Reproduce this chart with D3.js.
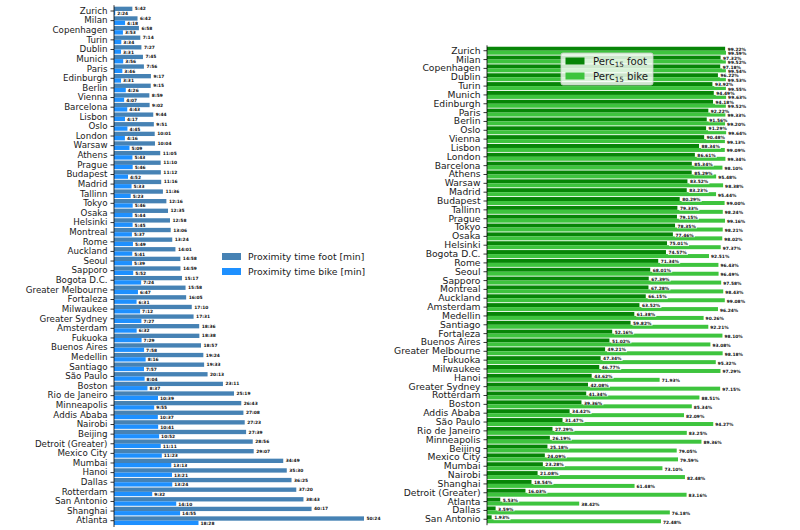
<!DOCTYPE html>
<html><head><meta charset="utf-8">
<script src="https://cdn.jsdelivr.net/npm/d3@7"></script>
<style>body{margin:0;background:#fff}svg{display:block}</style>
</head><body>
<svg id="c" width="800" height="530"></svg>
<script>
// ---- Left panel data (proximity times, m:ss) ----
const leftCities = ["Zurich","Milan","Copenhagen","Turin","Dublin","Munich","Paris","Edinburgh","Berlin","Vienna","Barcelona","Lisbon","Oslo","London","Warsaw","Athens","Prague","Budapest","Madrid","Tallinn","Tokyo","Osaka","Helsinki","Montreal","Rome","Auckland","Seoul","Sapporo","Bogota D.C.","Greater Melbourne","Fortaleza","Milwaukee","Greater Sydney","Amsterdam","Fukuoka","Buenos Aires","Medellin","Santiago","São Paulo","Boston","Rio de Janeiro","Minneapolis","Addis Ababa","Nairobi","Beijing","Detroit (Greater)","Mexico City","Mumbai","Hanoi","Dallas","Rotterdam","San Antonio","Shanghai","Atlanta"];
const footTime = ["5:42","6:42","6:58","7:14","7:27","7:45","7:56","9:17","9:15","8:59","9:02","9:44","9:51","10:01","10:04","11:05","11:10","11:12","11:16","11:36","12:16","12:35","12:58","13:06","13:24","14:01","14:58","14:59","15:17","15:58","16:05","17:10","17:31","18:36","18:38","18:57","19:24","19:33","20:13","23:11","25:19","26:43","27:08","27:23","27:39","28:56","29:07","34:49","35:30","36:25","37:20","38:43","40:17","50:24"];
const bikeTime = ["2:24","4:18","3:53","3:34","3:31","3:56","3:46","3:31","4:26","4:07","4:43","4:17","4:45","4:16","5:09","5:43","5:46","4:52","5:33","5:23","5:46","5:44","5:45","5:37","5:49","5:41","5:39","5:52","7:24","6:47","6:31","7:12","7:27","6:32","7:29","7:58","8:16","7:57","8:04","8:37","10:39","9:55","10:37","10:41","10:52","11:11","11:23","13:13","13:21","13:24","9:32","14:10","14:55","18:28"];
const leftLegend = ["Proximity time foot [min]","Proximity time bike [min]"];

// ---- Right panel data (share of population within 15 min, %) ----
const rightCities = ["Zurich","Milan","Copenhagen","Dublin","Turin","Munich","Edinburgh","Paris","Berlin","Oslo","Vienna","Lisbon","London","Barcelona","Athens","Warsaw","Madrid","Budapest","Tallinn","Prague","Tokyo","Osaka","Helsinki","Bogota D.C.","Rome","Seoul","Sapporo","Montreal","Auckland","Amsterdam","Medellin","Santiago","Fortaleza","Buenos Aires","Greater Melbourne","Fukuoka","Milwaukee","Hanoi","Greater Sydney","Rotterdam","Boston","Addis Ababa","São Paulo","Rio de Janeiro","Minneapolis","Beijing","Mexico City","Mumbai","Nairobi","Shanghai","Detroit (Greater)","Atlanta","Dallas","San Antonio"];
const footPerc = [99.22,97.32,97.18,96.22,93.92,94.49,94.18,92.22,91.56,91.29,90.48,88.34,86.61,85.34,85.29,83.52,83.23,80.29,79.33,79.15,78.35,77.46,75.01,74.57,71.34,68.01,67.39,67.28,66.15,63.52,61.38,59.82,52.16,51.02,49.21,47.34,46.77,43.62,42.08,41.34,39.36,34.42,31.47,27.29,26.19,25.18,24.09,23.28,21.08,18.54,16.03,5.53,3.59,1.93];
const bikePerc = [99.59,99.52,99.54,99.53,99.55,99.63,99.52,99.33,99.20,99.64,99.13,99.09,99.34,98.10,95.48,98.38,95.44,99.00,98.24,99.16,98.21,98.02,97.37,92.51,96.43,96.49,97.58,98.43,99.08,96.24,90.26,92.21,98.10,93.08,98.18,95.32,97.29,71.93,97.15,88.51,85.34,82.09,94.27,83.25,89.36,79.05,79.59,73.10,82.48,61.48,83.16,38.42,76.18,72.48];
const rightLegend = ["foot","bike"];

const toMin = s => { const [m, sec] = s.split(":").map(Number); return m + sec / 60; };
const footMin = footTime.map(toMin), bikeMin = bikeTime.map(toMin);

const svg = d3.select("#c");
const FONT = "DejaVu Sans, sans-serif";
const labelColor = "#1a1a1a";

function drawPanel(g, cats, a, b, aLab, bLab, x, y, colA, colB, bgOnA, tickFont) {
  const h = y.bandwidth() * 0.45;
  const rows = g.selectAll("g.row").data(cats).join("g").attr("class", "row");
  const cy = d => y(d) + y.bandwidth() / 2;
  rows.append("rect").attr("x", x.range()[0]).attr("y", d => cy(d) - h)
    .attr("width", (d, i) => Math.max(0, x(a[i]) - x.range()[0])).attr("height", h).attr("fill", colA);
  rows.append("rect").attr("x", x.range()[0]).attr("y", d => cy(d))
    .attr("width", (d, i) => Math.max(0, x(b[i]) - x.range()[0])).attr("height", h).attr("fill", colB);
  const addLab = (sel, xs, ys, txt, bg) => {
    const t = sel.append("text").attr("x", xs).attr("y", ys).attr("dy", "0.35em")
      .attr("font-family", FONT).attr("font-size", 4.4).attr("font-weight", "bold")
      .attr("fill", "#111").text(txt);
    if (bg) {
      t.each(function () {
        const bb = this.getBBox();
        d3.select(this.parentNode).insert("rect", () => this)
          .attr("x", bb.x - 0.6).attr("y", bb.y + 0.3).attr("width", bb.width + 1.2).attr("height", bb.height - 0.6)
          .attr("fill", "#fff").attr("opacity", 0.85);
      });
    }
  };
  rows.each(function (d, i) {
    const r = d3.select(this);
    addLab(r, x(a[i]) + 2.5, cy(d) - h / 2 + (bgOnA ? 0.6 : 0), aLab[i], bgOnA);
    addLab(r, x(b[i]) + 2, cy(d) + h / 2 + (bgOnA ? 0.9 : 0.4), bLab[i], !bgOnA);
  });
  const ax = g.append("g").attr("transform", `translate(${x.range()[0]},0)`)
    .call(d3.axisLeft(y).tickSize(3.5).tickPadding(3));
  ax.select(".domain").attr("stroke", "#000").attr("stroke-width", 0.8)
    .attr("d", `M0,${y.range()[0] - 1}V${y.range()[1] + 1.5}`);
  ax.selectAll(".tick line").attr("stroke", "#000").attr("stroke-width", 0.8);
  ax.selectAll(".tick text").attr("font-family", FONT).attr("font-size", tickFont).attr("fill", labelColor);
}

// Left panel
const xL = d3.scaleLinear().domain([0.9 * d3.min(bikeMin), d3.max(footMin)]).range([114, 364]);
const yL = d3.scaleBand().domain(leftCities).range([6.2, 525.5]).padding(0);
drawPanel(svg.append("g"), leftCities, footMin, bikeMin, footTime, bikeTime, xL, yL, "#4682b4", "#1e90ff", false, 8.7);

// Right panel
const xR = d3.scaleLinear().domain([0, 100]).range([487, 727]);
const yR = d3.scaleBand().domain(rightCities).range([46.3, 523.7]).padding(0);
drawPanel(svg.append("g"), rightCities, footPerc, bikePerc,
  footPerc.map(v => v.toFixed(2) + "%"), bikePerc.map(v => v.toFixed(2) + "%"),
  xR, yR, "#078507", "#3ec43e", true, 9.2);

// Left legend
const lg = svg.append("g").attr("transform", "translate(222,253)");
[["#4682b4", leftLegend[0]], ["#1e90ff", leftLegend[1]]].forEach(([c, t], i) => {
  lg.append("rect").attr("x", 0).attr("y", i * 15).attr("width", 19).attr("height", 7).attr("fill", c);
  lg.append("text").attr("x", 26).attr("y", i * 15 + 3.5).attr("dy", "0.35em")
    .attr("font-family", FONT).attr("font-size", 9.3).attr("fill", labelColor).text(t);
});

// Right legend
const rg = svg.append("g").attr("transform", "translate(561,53)");
rg.append("rect").attr("x", 0).attr("y", 0).attr("width", 92).attr("height", 32).attr("rx", 2)
  .attr("fill", "#fff").attr("fill-opacity", 0.8).attr("stroke", "#ccc").attr("stroke-width", 0.8);
[["#078507", rightLegend[0]], ["#3ec43e", rightLegend[1]]].forEach(([c, t], i) => {
  rg.append("rect").attr("x", 4.5).attr("y", 4.5 + i * 15).attr("width", 19).attr("height", 7).attr("fill", c);
  const tx = rg.append("text").attr("x", 32).attr("y", 8 + i * 15).attr("dy", "0.35em")
    .attr("font-family", FONT).attr("font-size", 10.2).attr("fill", labelColor);
  tx.append("tspan").text("Perc");
  tx.append("tspan").attr("font-size", 7.2).attr("dy", "2.5").text("15");
  tx.append("tspan").attr("dy", "-2.5").text(" " + t);
});
</script>
</body></html>
